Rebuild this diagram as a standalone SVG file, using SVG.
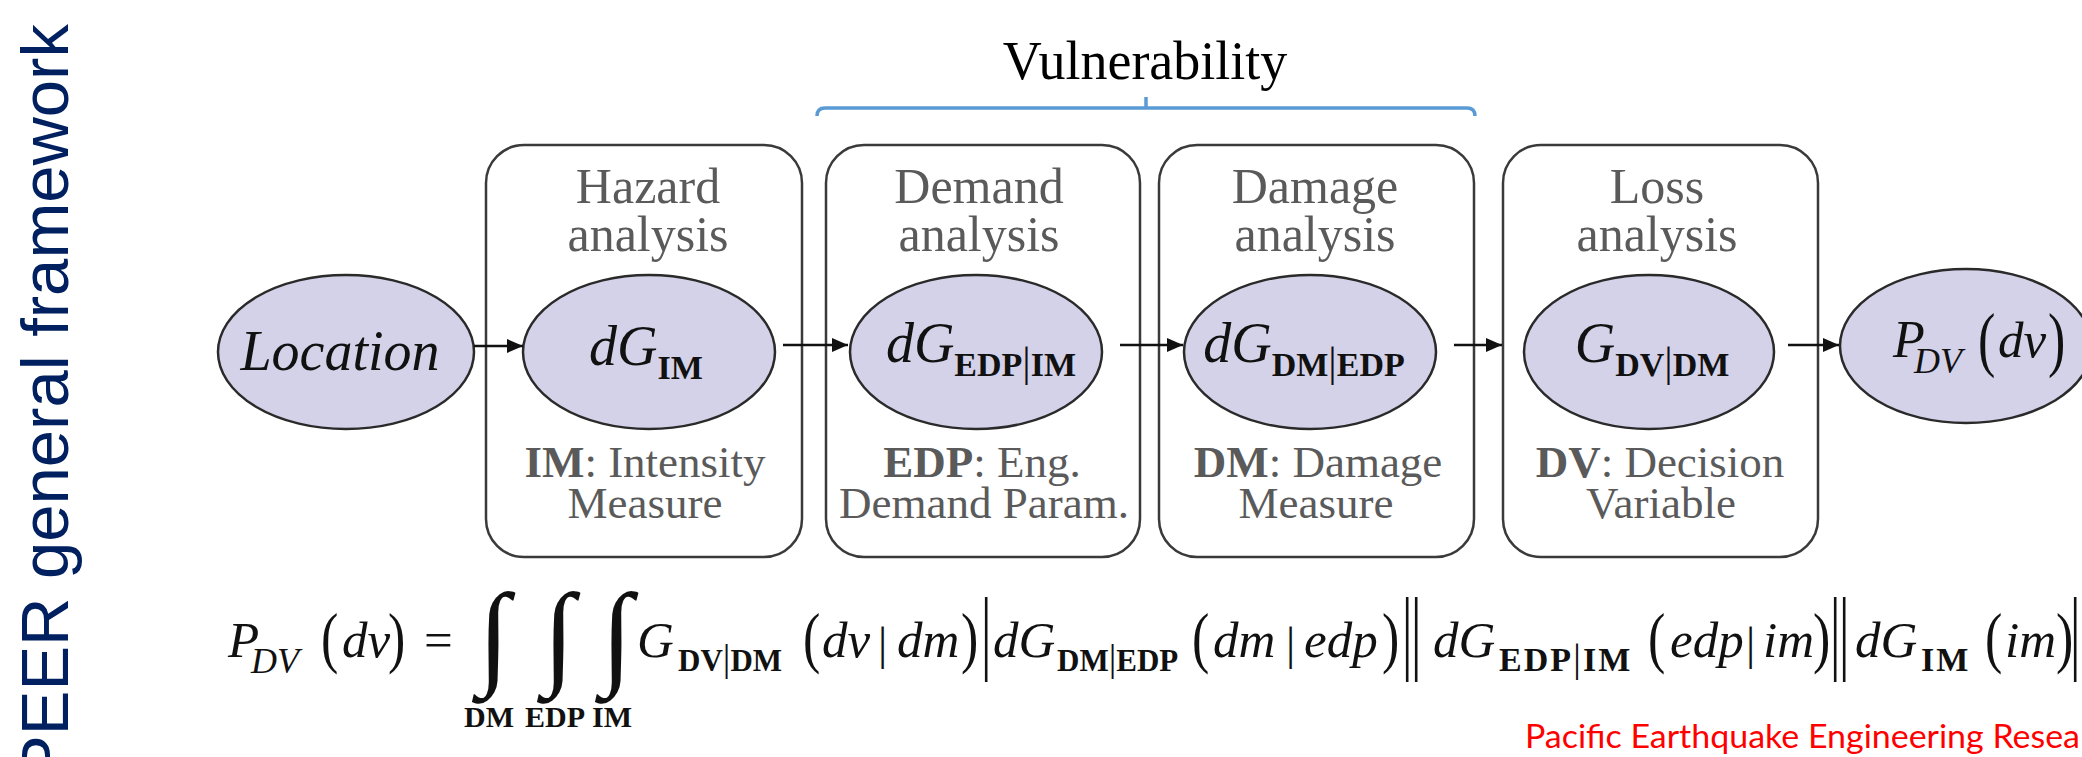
<svg xmlns="http://www.w3.org/2000/svg" width="2082" height="757" viewBox="0 0 2082 757">
<defs>
<style>
.box{fill:#fff;stroke:#3a3a3a;stroke-width:2.5}
.ell{fill:#D4D2E8;stroke:#2a2a2a;stroke-width:2.5}
.lbl{font-family:"Liberation Serif",serif;font-size:50px;fill:#5a5a5a;text-anchor:middle}
.lbl2{font-family:"Liberation Serif",serif;font-size:45px;fill:#5a5a5a;text-anchor:middle}
.b{font-weight:bold}
.m{font-family:"Liberation Serif",serif;font-style:italic;fill:#111}
.f{font-family:"Liberation Serif",serif;font-style:italic;font-size:51px;fill:#111}
.up{font-family:"Liberation Serif",serif;font-style:normal;fill:#111}
.sb{font-family:"Liberation Serif",serif;font-style:normal;font-weight:bold;fill:#111}
.bar{font-weight:normal}
.conn{stroke:#111;stroke-width:2.5;fill:none;marker-end:url(#ah)}
</style>
<marker id="ah" viewBox="0 0 16 14" refX="16" refY="7" markerWidth="16" markerHeight="14" markerUnits="userSpaceOnUse" orient="auto">
<path d="M0,0 L16,7 L0,14 Z" fill="#111"/>
</marker>
</defs>
<rect width="2082" height="757" fill="#fff"/>

<g id="title">
<text transform="translate(68,780) rotate(-90)" font-family="Liberation Sans, Arial, sans-serif" font-size="67" fill="#002060">PEER general framework</text>
</g>

<g id="vulnerability">
<text x="1145" y="79" font-family="Liberation Serif, serif" font-size="54" fill="#000" text-anchor="middle">Vulnerability</text>
<path d="M817,116 Q817,108 825,108 H1467 Q1475,108 1475,116 M1146,108 V97" fill="none" stroke="#5B9BD5" stroke-width="3.5"/>
</g>

<g id="box-hazard">
<rect class="box" x="486" y="145" width="316" height="412" rx="38"/>
<text class="lbl" x="648" y="203">Hazard</text>
<text class="lbl" x="648" y="251">analysis</text>
<text class="lbl2" x="645" y="477"><tspan class="b">IM</tspan>: Intensity</text>
<text class="lbl2" x="645" y="518">Measure</text>
</g>
<g id="box-demand">
<rect class="box" x="826" y="145" width="314" height="412" rx="38"/>
<text class="lbl" x="979" y="203">Demand</text>
<text class="lbl" x="979" y="251">analysis</text>
<text class="lbl2" x="982" y="477"><tspan class="b">EDP</tspan>: Eng.</text>
<text class="lbl2" x="984" y="518">Demand Param.</text>
</g>
<g id="box-damage">
<rect class="box" x="1159" y="145" width="315" height="412" rx="38"/>
<text class="lbl" x="1315" y="203">Damage</text>
<text class="lbl" x="1315" y="251">analysis</text>
<text class="lbl2" x="1318" y="477"><tspan class="b">DM</tspan>: Damage</text>
<text class="lbl2" x="1316" y="518">Measure</text>
</g>
<g id="box-loss">
<rect class="box" x="1503" y="145" width="315" height="412" rx="38"/>
<text class="lbl" x="1657" y="203">Loss</text>
<text class="lbl" x="1657" y="251">analysis</text>
<text class="lbl2" x="1660" y="477"><tspan class="b">DV</tspan>: Decision</text>
<text class="lbl2" x="1661" y="518">Variable</text>
</g>

<g id="node-location">
<ellipse class="ell" cx="346" cy="352" rx="128" ry="77"/>
<text class="m" x="340" y="370" font-size="56" text-anchor="middle">Location</text>
</g>
<g id="node-dGIM">
<ellipse class="ell" cx="649" cy="352" rx="126" ry="77"/>
<text class="m" x="646" y="365" font-size="56" text-anchor="middle">dG<tspan class="sb" font-size="34" dy="14">IM</tspan></text>
</g>
<g id="node-dGEDPIM">
<ellipse class="ell" cx="976" cy="352" rx="126" ry="77"/>
<text class="m" x="981" y="362" font-size="56" text-anchor="middle">dG<tspan class="sb" font-size="34" dy="14">EDP<tspan class="bar" font-size="42">|</tspan>IM</tspan></text>
</g>
<g id="node-dGDMEDP">
<ellipse class="ell" cx="1310" cy="352" rx="126" ry="77"/>
<text class="m" x="1304" y="362" font-size="56" text-anchor="middle">dG<tspan class="sb" font-size="34" dy="14">DM<tspan class="bar" font-size="42">|</tspan>EDP</tspan></text>
</g>
<g id="node-GDVDM">
<ellipse class="ell" cx="1649" cy="352" rx="125" ry="77"/>
<text class="m" x="1652" y="362" font-size="56" text-anchor="middle">G<tspan class="sb" font-size="34" dy="14">DV<tspan class="bar" font-size="42">|</tspan>DM</tspan></text>
</g>
<g id="node-PDV">
<ellipse class="ell" cx="1966" cy="346" rx="126" ry="77"/>
<text class="m" x="1893" y="357" font-size="52">P</text>
<text class="m" x="1914" y="373" font-size="36">DV</text>
<text class="up" transform="translate(1978,363) scale(1,1.4)" font-size="52">(</text>
<text class="m" x="1998" y="357" font-size="51">dv</text>
<text class="up" transform="translate(2048,363) scale(1,1.4)" font-size="52">)</text>
</g>

<g id="connectors">
<line class="conn" x1="474" y1="346" x2="523" y2="346"/>
<line class="conn" x1="783" y1="345" x2="848" y2="345"/>
<line class="conn" x1="1120" y1="345" x2="1183" y2="345"/>
<line class="conn" x1="1454" y1="345" x2="1502" y2="345"/>
<line class="conn" x1="1788" y1="345" x2="1839" y2="345"/>
</g>

<g id="formula">
<text class="f" x="228" y="657" font-size="53">P</text>
<text class="m" x="251" y="673" font-size="36">DV</text>
<text class="up" transform="translate(321,660) scale(1,1.3)" font-size="52">(</text>
<text class="f" x="342" y="657">dv</text>
<text class="up" transform="translate(388,660) scale(1,1.3)" font-size="52">)</text>
<text class="up" x="424" y="657" font-size="51">=</text>
<text class="up" x="478" y="673" font-size="115">∫</text>
<text class="up" x="543" y="673" font-size="115">∫</text>
<text class="up" x="601" y="673" font-size="115">∫</text>
<text class="sb" x="489" y="727" font-size="30" text-anchor="middle">DM</text>
<text class="sb" x="555" y="727" font-size="30" text-anchor="middle">EDP</text>
<text class="sb" x="612" y="727" font-size="30" text-anchor="middle">IM</text>

<text class="f" x="637" y="657">G</text>
<text class="sb" x="678" y="671" font-size="31">DV<tspan class="bar" font-size="38">|</tspan>DM</text>
<text class="up" transform="translate(803,660) scale(1,1.3)" font-size="52">(</text>
<text class="f" x="822" y="657">dv</text>
<text class="up" x="878" y="659" font-size="46">|</text>
<text class="f" x="897" y="657">dm</text>
<text class="up" transform="translate(961,660) scale(1,1.3)" font-size="52">)</text>
<text class="up" transform="translate(981,662) scale(1,1.8)" font-size="52">|</text>

<text class="f" x="993" y="657">dG</text>
<text class="sb" x="1057" y="671" font-size="31">DM<tspan class="bar" font-size="38">|</tspan>EDP</text>
<text class="up" transform="translate(1192,660) scale(1,1.3)" font-size="52">(</text>
<text class="f" x="1213" y="657">dm</text>
<text class="up" x="1286" y="659" font-size="46">|</text>
<text class="f" x="1304" y="657">edp</text>
<text class="up" transform="translate(1382,660) scale(1,1.3)" font-size="52">)</text>
<text class="up" transform="translate(1402,662) scale(1,1.8)" font-size="52">|</text>
<text class="up" transform="translate(1411,662) scale(1,1.8)" font-size="52">|</text>

<text class="f" x="1433" y="657">dG</text>
<text class="sb" x="1499" y="671" font-size="34" letter-spacing="2">EDP<tspan class="bar" font-size="40">|</tspan>IM</text>
<text class="up" transform="translate(1648,660) scale(1,1.3)" font-size="52">(</text>
<text class="f" x="1670" y="657">edp</text>
<text class="up" x="1746" y="659" font-size="46">|</text>
<text class="f" x="1763" y="657">im</text>
<text class="up" transform="translate(1813,660) scale(1,1.3)" font-size="52">)</text>
<text class="up" transform="translate(1830,662) scale(1,1.8)" font-size="52">|</text>
<text class="up" transform="translate(1839,662) scale(1,1.8)" font-size="52">|</text>

<text class="f" x="1855" y="657">dG</text>
<text class="sb" x="1921" y="671" font-size="34" letter-spacing="2">IM</text>
<text class="up" transform="translate(1985,660) scale(1,1.3)" font-size="52">(</text>
<text class="f" x="2005" y="657">im</text>
<text class="up" transform="translate(2056,660) scale(1,1.3)" font-size="52">)</text>
<text class="up" transform="translate(2070,662) scale(1,1.8)" font-size="52">|</text>
</g>

<g id="footer">
<text x="1525" y="748" font-family="Lato, Open Sans, sans-serif" font-size="32" fill="#FF0000" textLength="555" lengthAdjust="spacingAndGlyphs">Pacific Earthquake Engineering Resea</text>
</g>
</svg>
